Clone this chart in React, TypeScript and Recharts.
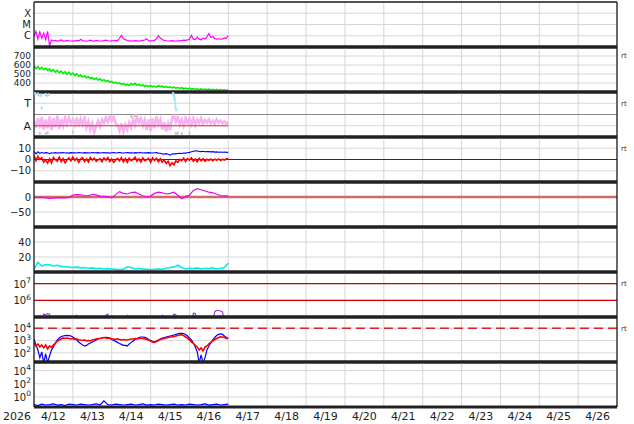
import {
    ComposedChart,
    Line,
    Scatter,
    XAxis,
    YAxis,
    CartesianGrid,
    ReferenceLine
} from 'recharts';

const W = 634;
const PANEL_H = 45;
const FONT = '"DejaVu Sans", Verdana, sans-serif';

// time axis: days since 4/12 00:00
const STEP = 0.05;
const STEP_COARSE = 0.1;
const DAY_LINES = [1, 2, 3, 4, 5, 6, 7, 8, 9, 10, 11, 12, 13, 14];
const DATE_TICKS = [0.5, 1.5, 2.5, 3.5, 4.5, 5.5, 6.5, 7.5, 8.5, 9.5, 10.5, 11.5, 12.5, 13.5, 14.5];
const DATE_LABELS = ['4/12', '4/13', '4/14', '4/15', '4/16', '4/17', '4/18', '4/19', '4/20', '4/21', '4/22', '4/23', '4/24', '4/25', '4/26'];
const YEAR_LABEL = '2026';

// panel 1 - x-ray flux
const XRAY_TICKS = [1e-6, 1e-5, 1e-4];
const XRAY_LABELS = ['C', 'M', 'X'];
const XRAY = [
    9e-7, 2.4e-6, 5e-7, 2.2e-6, 6e-7, 1.7e-6, 4.5e-7, 2.5e-6, 1.3e-7, 4.2e-7,
    3.6e-7, 3.9e-7, 3.4e-7, 3.7e-7, 4.3e-7, 3.5e-7, 3.3e-7, 3.9e-7, 3.6e-7, 3.4e-7,
    3.5e-7, 3.3e-7, 3.8e-7, 3.5e-7, 4.6e-7, 3.7e-7, 3.4e-7, 3.3e-7, 3.6e-7, 4.0e-7,
    3.5e-7, 3.4e-7, 3.8e-7, 3.6e-7, 3.4e-7, 3.5e-7, 3.7e-7, 4.1e-7, 3.6e-7, 3.4e-7,
    3.5e-7, 3.6e-7, 3.8e-7, 3.6e-7, 6.0e-7, 1.1e-6, 5.5e-7, 4.5e-7, 3.8e-7, 3.5e-7,
    3.6e-7, 3.4e-7, 3.7e-7, 3.5e-7, 3.3e-7, 3.6e-7, 3.9e-7, 4.2e-7, 5.5e-7, 3.7e-7,
    3.5e-7, 3.6e-7, 3.9e-7, 5.2e-7, 1.0e-6, 6.2e-7, 4.6e-7, 3.9e-7, 3.6e-7, 3.4e-7,
    3.5e-7, 3.7e-7, 3.3e-7, 3.4e-7, 3.6e-7, 3.5e-7, 3.8e-7, 4.0e-7, 3.9e-7, 4.3e-7,
    4.8e-7, 1.1e-6, 5.0e-7, 4.6e-7, 7.5e-7, 5.0e-7, 4.4e-7, 6.0e-7, 5.2e-7, 8.0e-7,
    1.6e-6, 7.0e-7, 9.0e-7, 5.5e-7, 5.0e-7, 5.4e-7, 4.9e-7, 5.2e-7, 6.5e-7, 5.8e-7,
    1.05e-6
];

// panel 2 - solar wind speed
const SPEED_TICKS = [400, 500, 600, 700];
const SPEED_LABELS = ['400', '500', '600', '700'];
const SPEED = [
    588, 560, 582, 555, 574, 548, 565, 540, 556, 530,
    548, 522, 541, 515, 533, 505, 526, 498, 519, 490,
    510, 484, 502, 475, 488, 466, 480, 458, 470, 450,
    462, 440, 455, 432, 446, 424, 437, 416, 428, 408,
    418, 400, 410, 393, 402, 385, 394, 378, 386, 372,
    392, 380, 396, 376, 384, 368, 380, 362, 374, 360,
    370, 358, 366, 354, 372, 360, 366, 352, 362, 348,
    358, 346, 354, 342, 350, 340, 348, 336, 344, 334,
    342, 330, 338, 328, 336, 326, 334, 325, 332, 324,
    333, 322, 330, 320, 328, 319, 327, 318, 325, 317,
    322
];

// panel 3 - imf angle
const PHI_TICKS = [90, 270];
const PHI_LABELS = ['A', 'T'];
const PHI = [
    130, 75, 150, 95, 160, 60, 140, 70, 165, 55,
    150, 80, 170, 65, 145, 90, 155, 100, 150, 110,
    140, 95, 155, 85, 145, 100, 150, 75, 125, 60,
    110, 40, 90, 130, 85, 140, 110, 155, 120, 165,
    130, 160, 110, 95, 50, 110, 45, 100, 60, 115,
    75, 140, 95, 160, 115, 150, 90, 135, 55, 140,
    50, 150, 70, 165, 100, 140, 60, 120, 45, 110,
    55, 150, 170, 120, 160, 100, 140, 90, 150, 110,
    145, 100, 150, 95, 140, 110, 150, 105, 135, 115,
    140, 110, 130, 105, 140, 115, 130, 110, 125, 105,
    120
];
const PHI_REF_T = [0, 5];
const PHI_REF = [90, 90];
const PHI_BLUE_T = [0.03, 0.1, 0.12, 0.18, 0.2, 0.3, 0.33, 0.38, 3.58, 3.6, 3.61, 3.62, 3.63, 3.64, 3.66];
const PHI_BLUE = [350, 345, 336, 335, 232, 340, 333, 338, 352, 335, 318, 300, 270, 240, 218];
const PHI_GRAY_T = [0.15, 0.3, 0.35, 1.0, 2.5, 2.6, 3.65, 3.7, 3.8, 4.0];
const PHI_GRAY = [30, 25, 35, 40, 165, 170, 28, 32, 26, 30];

// panel 4 - imf bt / bz
const B_TICKS = [-10, 0, 10];
const B_LABELS = ['\u221210', '0', '10'];
const BT = [
    7.2, 5.0, 6.8, 5.4, 6.4, 5.6, 6.1, 5.9, 5.2, 6.0,
    5.8, 6.1, 5.7, 6.0, 5.9, 6.2, 5.8, 6.0, 5.7, 6.1,
    5.9, 6.0, 5.8, 6.2, 6.0, 5.8, 6.1, 5.9, 6.0, 5.8,
    6.2, 6.0, 5.9, 6.1, 5.8, 6.0, 6.2, 5.9, 6.0, 5.7,
    6.0, 6.1, 5.8, 6.0, 6.2, 5.9, 5.8, 6.0, 6.1, 5.9,
    6.0, 5.8, 6.1, 5.9, 6.0, 6.2, 5.8, 6.0, 5.9, 6.1,
    5.9, 5.8, 6.0, 6.1, 5.7, 5.5, 5.0, 4.8, 5.2, 4.6,
    3.8, 4.9, 5.1, 5.0, 5.3, 5.6, 5.4, 5.8, 5.7, 6.0,
    6.3, 6.8, 7.4, 7.8, 7.6, 7.2, 7.0, 7.3, 6.9, 7.1,
    7.0, 6.8, 7.0, 6.6, 6.8, 6.5, 6.7, 6.4, 6.6, 6.3,
    6.5
];
const BZ = [
    3.5, -1.0, 2.8, 0.2, 1.5, -2.5, -0.3, -3.2, 0.5, -3.0,
    1.8, -0.2, -1.5, 2.0, -2.0, 0.8, -2.8, -0.4, 1.5, -1.2,
    2.2, -0.8, 1.0, -2.6, 0.3, 1.6, -1.8, 0.5, -2.2, 1.8,
    -0.5, 1.2, -1.6, -0.2, 0.6, -2.0, 1.4, -0.6, 1.8, -1.8,
    0.4, -2.6, -0.4, 1.0, -1.2, 1.6, -2.0, 0.8, -2.4, 1.2,
    -1.0, 0.2, 2.0, -1.5, 0.6, -2.2, 1.4, -1.0, -0.2, 0.9,
    -2.5, 1.5, -0.8, 1.1, -1.9, 0.7, -2.3, -0.5, -3.5, -1.5,
    -5.5, -3.0, -4.8, -1.2, -2.5, 0.2, -1.0, 1.2, -1.8, 0.8,
    -0.6, 1.4, -1.5, 0.5, -2.0, 1.0, -1.2, 0.6, -1.6, 0.2,
    -0.8, 0.4, -1.1, 0.3, -0.7, 0.5, -0.9, 0.2, -0.6, 0.6,
    0.8
];

// panel 5 - dst
const DST_TICKS = [-50, 0];
const DST_LABELS = ['\u221250', '0'];
const DST = [
    -1, -2, -1, -3, -5, -4, -3, -2, -3, -1,
    6, 8, 7, 5, 4, 9, 7, 3, 2, 1,
    -3, 8, 18, 12, 10, 15, 16, 10, 4, 0,
    3, 12, 16, 14, 10, 12, 16, 6, -6, 2,
    6, 22, 28, 24, 20, 16, 14, 9, 5, 4,
    3
];

// panel 6 - density
const DENS_TICKS = [20, 40];
const DENS_LABELS = ['20', '40'];
const DENS = [
    4, 13, 8, 10, 9.5, 8, 9, 7.5, 7, 6.5,
    6, 6.5, 5.5, 6, 5, 5.5, 4.5, 5, 4, 4.5,
    4, 3.5, 3, 3.5, 7, 6, 4, 5, 3.5, 4,
    3, 3.5, 4, 3.5, 5, 6, 6.5, 9, 6, 4,
    5, 4.5, 5.5, 4, 5, 4.5, 5.5, 4, 5, 6,
    12
];

// panel 7 - electron fluence
const ELEC_TICKS = [1e6, 1e7];
const ELEC_LABELS = ['6', '7'];
const ELEC = [
    5e4, 5e4, 5e4, 5e4, 5e4, 1.5e5, 1.35e5, 1.6e5, 1.45e5, 5e4,
    5e4, 5e4, 5e4, 5e4, 5e4, 5e4, 5e4, 5e4, 5e4, 5e4,
    5e4, 5e4, 1.2e5, 5e4, 5e4, 5e4, 5e4, 5e4, 5e4, 5e4,
    5e4, 5e4, 5e4, 5e4, 5e4, 5e4, 5e4, 1.3e5, 1.5e5, 5e4,
    5e4, 5e4, 5e4, 5e4, 5e4, 5e4, 5e4, 5e4, 1.15e5, 5e4,
    5e4, 5e4, 5e4, 5e4, 5e4, 5e4, 5e4, 5e4, 5e4, 5e4,
    5e4, 5e4, 5e4, 5e4, 5e4, 5e4, 1.2e5, 5e4, 5e4, 5e4,
    5e4, 5e4, 1.5e5, 1.35e5, 5e4, 5e4, 5e4, 5e4, 5e4, 5e4,
    5e4, 5e4, 1.7e5, 1.6e5, 5e4, 5e4, 5e4, 5e4, 5e4, 5e4,
    5e4, 5e4, 5e4, 2.1e5, 2.5e5, 2.45e5, 2.3e5, 2.0e5, 5e4, 5e4,
    5e4
];

// panel 8 - particle pair
const P8_TICKS = [1e2, 1e3, 1e4];
const P8_LABELS = ['2', '3', '4'];
const P8_BLUE = [
    1330, 435, 170, 39, 120, 15, 82, 15, 55, 170,
    300, 630, 1100, 1600, 2100, 2300, 2500, 2600, 2500, 2300,
    1920, 1450, 1100, 760, 570, 435, 360, 400, 525, 630,
    760, 915, 1100, 1330, 1450, 1600, 1750, 1800, 1750, 1450,
    1200, 1000, 840, 700, 570, 480, 400, 400, 360, 525,
    700, 915, 1200, 1450, 1750, 1920, 1920, 1800, 1600, 1200,
    1000, 840, 760, 915, 1100, 1330, 1600, 1750, 1920, 2100,
    2300, 2500, 2790, 3100, 3400, 3700, 3800, 3700, 3100, 2300,
    1600, 1100, 630, 300, 120, 15, 68, 15, 39, 170,
    360, 630, 1100, 1750, 2500, 3100, 3400, 3100, 2300, 1750,
    1450
];
const P8_RED = [
    630, 360, 525, 300, 435, 250, 435, 207, 360, 275,
    435, 570, 915, 1100, 1330, 1600, 1450, 1600, 1450, 1330,
    1450, 1200, 1330, 1100, 1100, 1000, 1100, 915, 1000, 915,
    1100, 1200, 1330, 1450, 1450, 1600, 1750, 1600, 1450, 1600,
    1330, 1330, 1200, 1330, 1200, 1100, 1200, 1100, 1100, 1200,
    1330, 1330, 1450, 1330, 1450, 1600, 1450, 1330, 1200, 1100,
    915, 760, 700, 840, 1000, 1200, 1330, 1450, 1600, 1750,
    1920, 1920, 2100, 2300, 2500, 2790, 2900, 2500, 1920, 1450,
    1100, 760, 570, 400, 300, 170, 250, 143, 300, 360,
    525, 700, 915, 1200, 1450, 1750, 1950, 1920, 1750, 1450,
    1450
];
const P8_LIMIT = 1e4;

// panel 9
const P9_TICKS = [1, 1e2, 1e4];
const P9_LABELS = ['0', '2', '4'];
const P9 = [
    0.07, 0.05, 0.08, 0.06, 0.07, 0.09, 0.06, 0.07, 0.05, 0.08,
    0.07, 0.06, 0.08, 0.07, 0.06, 0.07, 0.09, 0.06, 0.25, 0.07,
    0.06, 0.08, 0.07, 0.06, 0.07, 0.08, 0.06, 0.07, 0.09, 0.06,
    0.07, 0.06, 0.08, 0.07, 0.06, 0.07, 0.08, 0.06, 0.07, 0.06,
    0.08, 0.07, 0.06, 0.07, 0.09, 0.06, 0.07, 0.08, 0.06, 0.07,
    0.08
];

const rows = (vals: number[], step: number) => vals.map((v, i) => ({ t: i * step, v }));
const rowsAt = (ts: number[], vals: number[]) => ts.map((t, i) => ({ t, v: vals[i] }));
const rows2 = (a: number[], b: number[], step: number) => a.map((v, i) => ({ t: i * step, a: v, b: b[i] }));

const yTick = (ticks: number[], labels: string[], power?: boolean, size = 10) => (props: any) => {
    const { y, payload } = props;
    const i = ticks.findIndex(t => Math.abs(t - payload.value) <= Math.abs(t) * 1e-6);
    const lab = i >= 0 ? labels[i] : '';
    if (power) {
        return (
            <text x={31} y={y} textAnchor="end" fontSize={size} fontFamily={FONT} fill="#222">
                <tspan dy={4}>10</tspan>
                <tspan dy={-4.5} fontSize={7.5}>{lab}</tspan>
            </text>
        );
    }
    return (
        <text x={31} y={y} dy={size * 0.37} textAnchor="end" fontSize={size} fontFamily={FONT} fill="#222">{lab}</text>
    );
};

const MT = 4;
const AXIS_H = 17;

const xTick = (props: any) => {
    const { x, index } = props;
    const y = MT + PANEL_H + 13;
    return (
        <g>
            {index === 0 && (
                <text x={17} y={y} textAnchor="middle" fontSize={11} fontFamily={FONT} fill="#222">{YEAR_LABEL}</text>
            )}
            <text x={x} y={y} textAnchor="middle" fontSize={11} fontFamily={FONT} fill="#222">{DATE_LABELS[index]}</text>
        </g>
    );
};

interface PanelProps {
    index: number;
    data?: any[];
    domain: [number, number];
    log?: boolean;
    ticks: number[];
    labels: string[];
    power?: boolean;
    size?: number;
    rt?: number;
    last?: boolean;
    children?: any;
}

const Panel = ({ index, data, domain, log, ticks, labels, power, size, rt, last, children }: PanelProps) => {
    const h = MT + PANEL_H + (last ? AXIS_H : 4);
    return (
        <div style={{ position: 'absolute', left: 0, top: 2 + index * PANEL_H - MT, width: W, height: h }}>
            <ComposedChart width={W} height={h} data={data} margin={{ top: MT, right: 17, bottom: last ? 0 : 4, left: 0 }}>
                <XAxis xAxisId="g" type="number" dataKey="t" domain={[0, 15]} ticks={DAY_LINES} hide allowDataOverflow />
                <XAxis
                    type="number"
                    dataKey="t"
                    domain={[0, 15]}
                    allowDataOverflow
                    hide={!last}
                    ticks={DATE_TICKS}
                    interval={0}
                    height={AXIS_H}
                    axisLine={false}
                    tickLine={false}
                    tick={xTick}
                />
                <YAxis
                    type="number"
                    scale={log ? 'log' : 'linear'}
                    domain={domain}
                    ticks={ticks}
                    interval={0}
                    allowDataOverflow
                    width={34}
                    axisLine={false}
                    tickLine={false}
                    tick={yTick(ticks, labels, power, size)}
                />
                <CartesianGrid xAxisId="g" stroke="#d6d6d6" />
                {children}
                <ReferenceLine y={domain[0]} stroke="#222" strokeWidth={3} />
                <ReferenceLine y={domain[1]} stroke="#222" strokeWidth={index === 0 ? 1.5 : 3} />
                <ReferenceLine x={0} stroke="#111" strokeWidth={1.2} />
                <ReferenceLine x={15} stroke="#111" strokeWidth={1.2} />
                {rt !== undefined && (
                    <ReferenceLine y={rt} stroke="none" label={{ value: 'rt', position: 'right', offset: 4, fontSize: 7, fill: '#333', fontFamily: FONT }} />
                )}
            </ComposedChart>
        </div>
    );
};

const dotShape = (color: string) => (p: any) => (
    <rect x={p.cx - 1} y={p.cy - 1.5} width={2} height={3} fill={color} />
);

const App = () => {
    return (
        <div style={{ position: 'fixed', left: 0, top: 0, width: W, height: 424, background: '#fff', fontFamily: FONT }}>
            <Panel index={0} data={rows(XRAY, STEP)} domain={[1e-7, 1e-3]} log ticks={XRAY_TICKS} labels={XRAY_LABELS} size={10}>
                <Line dataKey="v" stroke="#ff00ff" strokeWidth={1.2} dot={false} activeDot={false} isAnimationActive={false} />
            </Panel>

            <Panel index={1} data={rows(SPEED, STEP)} domain={[300, 800]} ticks={SPEED_TICKS} labels={SPEED_LABELS} size={9} rt={700}>
                <Line dataKey="v" stroke="#00f000" strokeWidth={1.6} dot={false} activeDot={false} isAnimationActive={false} />
            </Panel>

            <Panel index={2} data={rows(PHI, STEP)} domain={[0, 360]} ticks={PHI_TICKS} labels={PHI_LABELS} size={11} rt={270}>
                <ReferenceLine y={180} stroke="#888" strokeWidth={1.2} />
                <Line dataKey="v" stroke="#f7b2ef" strokeWidth={2.6} dot={false} activeDot={false} isAnimationActive={false} />
                <Scatter data={rowsAt(PHI_GRAY_T, PHI_GRAY)} dataKey="v" shape={dotShape('#c8c8c8')} isAnimationActive={false} />
                <Line data={rowsAt(PHI_REF_T, PHI_REF)} dataKey="v" stroke="#e03030" strokeWidth={1} dot={false} activeDot={false} isAnimationActive={false} />
                <Scatter data={rowsAt(PHI_BLUE_T, PHI_BLUE)} dataKey="v" shape={dotShape('#a9def7')} isAnimationActive={false} />
            </Panel>

            <Panel index={3} data={rows2(BT, BZ, STEP)} domain={[-20, 20]} ticks={B_TICKS} labels={B_LABELS} rt={10}>
                <ReferenceLine y={0} stroke="#a00000" strokeWidth={1.2} />
                <Line dataKey="b" stroke="#ff0000" strokeWidth={1.6} dot={false} activeDot={false} isAnimationActive={false} />
                <Line dataKey="a" stroke="#0000ff" strokeWidth={1.1} dot={false} activeDot={false} isAnimationActive={false} />
            </Panel>

            <Panel index={4} data={rows(DST, STEP_COARSE)} domain={[-100, 50]} ticks={DST_TICKS} labels={DST_LABELS}>
                <ReferenceLine y={0} stroke="#d06a6a" strokeWidth={2.5} />
                <Line dataKey="v" stroke="#ee00ee" strokeWidth={1.2} dot={false} activeDot={false} isAnimationActive={false} />
            </Panel>

            <Panel index={5} data={rows(DENS, STEP_COARSE)} domain={[0, 60]} ticks={DENS_TICKS} labels={DENS_LABELS}>
                <Line dataKey="v" stroke="#00eeee" strokeWidth={1.6} dot={false} activeDot={false} isAnimationActive={false} />
            </Panel>

            <Panel index={6} data={rows(ELEC, STEP)} domain={[1e5, 5e7]} log ticks={ELEC_TICKS} labels={ELEC_LABELS} power rt={1e7}>
                <ReferenceLine y={1e6} stroke="#cc0000" strokeWidth={1.2} />
                <ReferenceLine y={1e7} stroke="#cc0000" strokeWidth={1.2} />
                <Line dataKey="v" stroke="#a23be0" strokeWidth={1.2} dot={false} activeDot={false} isAnimationActive={false} />
            </Panel>

            <Panel index={7} data={rows2(P8_BLUE, P8_RED, STEP)} domain={[18, 8e4]} log ticks={P8_TICKS} labels={P8_LABELS} power rt={1e4}>
                <ReferenceLine y={P8_LIMIT} stroke="#dd2222" strokeWidth={1.5} strokeDasharray="9 5" />
                <Line dataKey="a" stroke="#0000ff" strokeWidth={1.2} dot={false} activeDot={false} isAnimationActive={false} />
                <Line dataKey="b" stroke="#ff0000" strokeWidth={1.6} dot={false} activeDot={false} isAnimationActive={false} />
            </Panel>

            <Panel index={8} data={rows(P9, STEP_COARSE)} domain={[0.03, 2e5]} log ticks={P9_TICKS} labels={P9_LABELS} power last>
                <Line dataKey="v" stroke="#0000ff" strokeWidth={1.2} dot={false} activeDot={false} isAnimationActive={false} />
            </Panel>
        </div>
    );
};

export default App;
